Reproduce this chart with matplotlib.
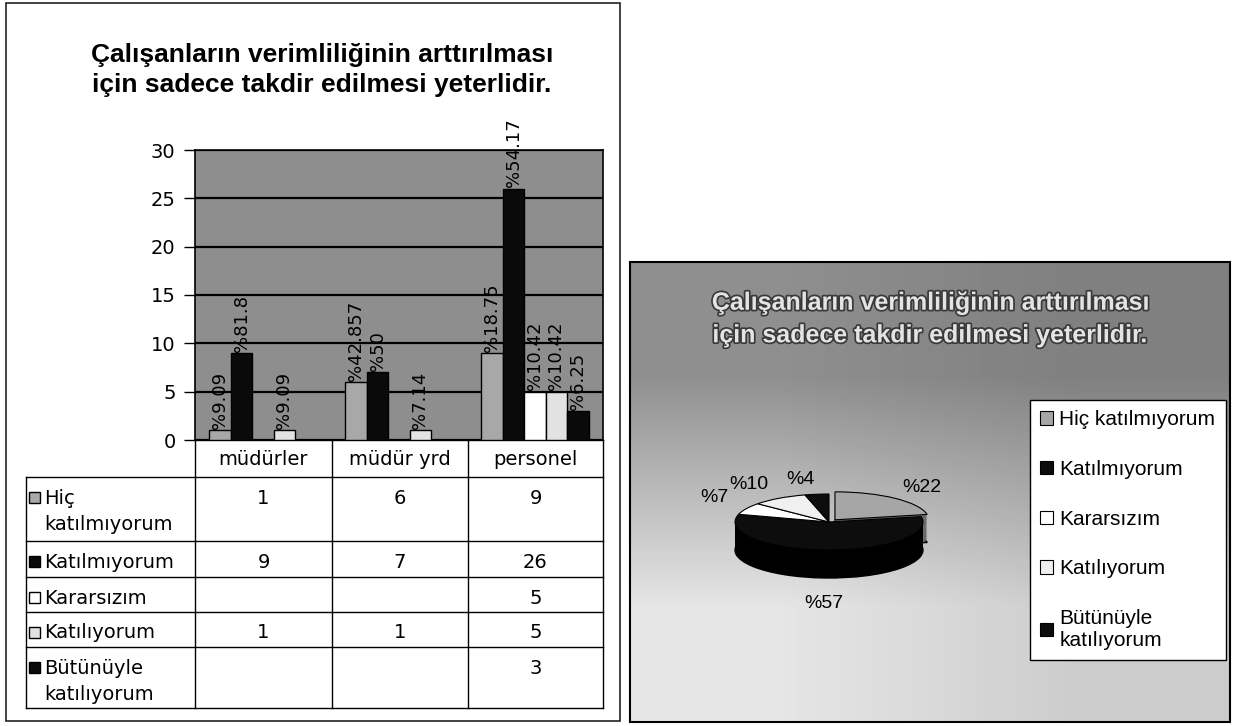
import numpy as np
import matplotlib
matplotlib.use("Agg")
import matplotlib.pyplot as plt
from matplotlib.patches import Rectangle
from matplotlib.font_manager import FontProperties
import matplotlib.patheffects as pe

# ---------------- data ----------------
title = "Çalışanların verimliliğinin arttırılması\niçin sadece takdir edilmesi yeterlidir."
groups = ["müdürler", "müdür yrd", "personel"]
series_names = ["Hiç katılmıyorum", "Katılmıyorum", "Kararsızım", "Katılıyorum",
                "Bütünüyle\nkatılıyorum"]
table_labels = ["Hiç\nkatılmıyorum", "Katılmıyorum", "Kararsızım", "Katılıyorum",
                "Bütünüyle\nkatılıyorum"]
hic = [1, 6, 9]
katilmiyorum = [9, 7, 26]
kararsizim = [None, None, 5]
katiliyorum = [1, 1, 5]
butunuyle = [None, None, 3]
pct_hic = ["%9.09", "%42.857", "%18.75"]
pct_katilmiyorum = ["%81.8", "%50", "%54.17"]
pct_kararsizim = [None, None, "%10.42"]
pct_katiliyorum = ["%9.09", "%7.14", "%10.42"]
pct_butunuyle = [None, None, "%6.25"]
pie_labels = ["%22", "%57", "%7", "%10", "%4"]
yticks = [0, 5, 10, 15, 20, 25, 30]

series_vals = [hic, katilmiyorum, kararsizim, katiliyorum, butunuyle]
series_pcts = [pct_hic, pct_katilmiyorum, pct_kararsizim, pct_katiliyorum, pct_butunuyle]
bar_colors = ["#a8a8a8", "#0a0a0a", "#ffffff", "#e2e2e2", "#0a0a0a"]
pie_top_colors = ["#a6a6a6", "#0d0d0d", "#ffffff", "#f0f0f0", "#0d0d0d"]
pie_side_colors = ["#6a6a6a", "#000000", "#bcbcbc", "#c4c4c4", "#000000"]

W, H = 1234, 726
fig = plt.figure(figsize=(W / 100, H / 100), dpi=100)
fig.patch.set_facecolor("white")


def box(l, t, r, b):
    return [l / W, 1 - b / H, (r - l) / W, (b - t) / H]


TXT = "DejaVu Sans"
ARIAL = "Liberation Sans"

# overlay axes in pixel coordinates
ov = fig.add_axes([0, 0, 1, 1])
ov.set_xlim(0, W)
ov.set_ylim(H, 0)
ov.axis("off")

# ---------------- left panel ----------------
ov.add_patch(Rectangle((6, 3), 614, 718, fill=False, edgecolor="#222222", lw=1.2))
ov.text(322, 70, title, ha="center", va="center", fontsize=19, fontweight="bold",
        family=ARIAL, linespacing=1.3)

ax = fig.add_axes(box(195, 150, 603, 440))
ax.set_facecolor("#8e8e8e")
x = np.arange(len(groups))
bw = 0.158
for i, (vals, labs) in enumerate(zip(series_vals, series_pcts)):
    h = [np.nan if v is None else v for v in vals]
    bars = ax.bar(x + (i - 2) * bw, h, bw, color=bar_colors[i], edgecolor="black",
                  linewidth=1, zorder=3)
    for b, lab in zip(bars, labs):
        if lab:
            ax.annotate(lab, (b.get_x() + b.get_width() / 2, b.get_height()),
                        xytext=(0, 1), textcoords="offset points", rotation=90,
                        ha="center", va="bottom", fontsize=13, family=TXT,
                        annotation_clip=False, zorder=4)
ax.set_xlim(-0.5, 2.5)
ax.set_ylim(0, 30)
ax.set_yticks(yticks)
ax.set_xticks([])
ax.yaxis.grid(True, color="black", linewidth=1.6)
ax.set_axisbelow(True)
ax.tick_params(axis="y", length=8, width=1, labelsize=14, pad=6)
for t in ax.get_yticklabels():
    t.set_family(TXT)
for s in ax.spines.values():
    s.set_color("black")
    s.set_linewidth(1.2)

# data table under the bars
col_x = [26, 195, 332, 468, 603]
row_y = [440, 477, 541, 577, 612, 647, 708]
lk = dict(color="black", lw=1)
ov.plot([col_x[1], col_x[-1]], [row_y[0], row_y[0]], **lk)
for yy in row_y[1:]:
    ov.plot([col_x[0], col_x[-1]], [yy, yy], **lk)
ov.plot([col_x[0], col_x[0]], [row_y[1], row_y[-1]], **lk)
for xx in col_x[1:]:
    ov.plot([xx, xx], [row_y[0], row_y[-1]], **lk)
for j, g in enumerate(groups):
    ov.text((col_x[j + 1] + col_x[j + 2]) / 2, (row_y[0] + row_y[1]) / 2 + 1, g,
            ha="center", va="center", fontsize=14, family=TXT)
for i, lab in enumerate(table_labels):
    top = row_y[i + 1]
    yc = top + 21
    ov.add_patch(Rectangle((29, yc - 6), 11, 11, facecolor=bar_colors[i],
                           edgecolor="black", lw=1, zorder=3))
    for k, line in enumerate(lab.split("\n")):
        ov.text(44, yc + k * 27, line, ha="left", va="center", fontsize=14, family=TXT)
    for j, v in enumerate(series_vals[i]):
        if v is not None:
            ov.text((col_x[j + 1] + col_x[j + 2]) / 2, yc, str(v), ha="center",
                    va="center", fontsize=14, family=TXT)

# ---------------- right panel ----------------
grad = np.array([[0.56, 0.50], [0.90, 0.80]])
ov.imshow(grad, cmap="gray", vmin=0, vmax=1, extent=(630, 1230, 722, 262),
          interpolation="bilinear", aspect="auto", zorder=0)
ov.add_patch(Rectangle((630, 262), 600, 460, fill=False, edgecolor="black", lw=1.5,
                       zorder=2))
ov.set_xlim(0, W)
ov.set_ylim(H, 0)
ov.text(930, 319, title, ha="center", va="center", fontsize=18, fontweight="bold",
        family=ARIAL, color="#e4e4e4", linespacing=1.45, zorder=3,
        path_effects=[pe.withStroke(linewidth=2.5, foreground="#3a3a3a")])

pie_totals = [sum(v for v in vals if v is not None) for vals in series_vals]
cx, cy, rx, ry, depth = 829, 522, 94, 28, 28
pl, pr, pt, pb = 700, 958, 470, 610
pax = fig.add_axes(box(pl, pt, pr, pb))
pax.patch.set_visible(False)
dep = depth / ry
explode = [0.1, 0, 0, 0, 0]
layers = np.linspace(dep, 0, 16)[:-1]
for n, d in enumerate(layers):
    pax.pie(pie_totals, radius=1, center=(0, -d), startangle=90, counterclock=False,
            colors=pie_side_colors, explode=explode,
            wedgeprops=dict(linewidth=1.0 if n == 0 else 0,
                            edgecolor="black"))
wedges, _ = pax.pie(pie_totals, radius=1, center=(0, 0), startangle=90,
                    counterclock=False, colors=pie_top_colors, explode=explode,
                    wedgeprops=dict(linewidth=0.8, edgecolor="black"))
pax.set_xlim((pl - cx) / rx, (pr - cx) / rx)
pax.set_ylim((cy - pb) / ry, (cy - pt) / ry)
pax.set_aspect("auto")
pax.axis("off")
for w, lab in zip(wedges, pie_labels):
    ang = np.deg2rad((w.theta1 + w.theta2) / 2)
    c, s = np.cos(ang), np.sin(ang)
    r = 1.22
    lx, ly = r * c, r * s
    if s < 0:
        ly -= dep + 0.4
    pax.text(lx, ly, lab, ha="left" if c > 0.05 else ("right" if c < -0.05 else "center"),
             va="bottom" if s > 0 else "top", fontsize=14, family=ARIAL,
             clip_on=False)

fig.legend(wedges, series_names, loc="upper left",
           bbox_to_anchor=(1030 / W, 1 - 400 / H), borderaxespad=0, frameon=True,
           fancybox=False, edgecolor="black", framealpha=1,
           prop=FontProperties(family=ARIAL, size=15), handlelength=0.6,
           handleheight=0.6, handletextpad=0.3, labelspacing=1.47, borderpad=0.5)

fig.savefig("out.png", dpi=100)
